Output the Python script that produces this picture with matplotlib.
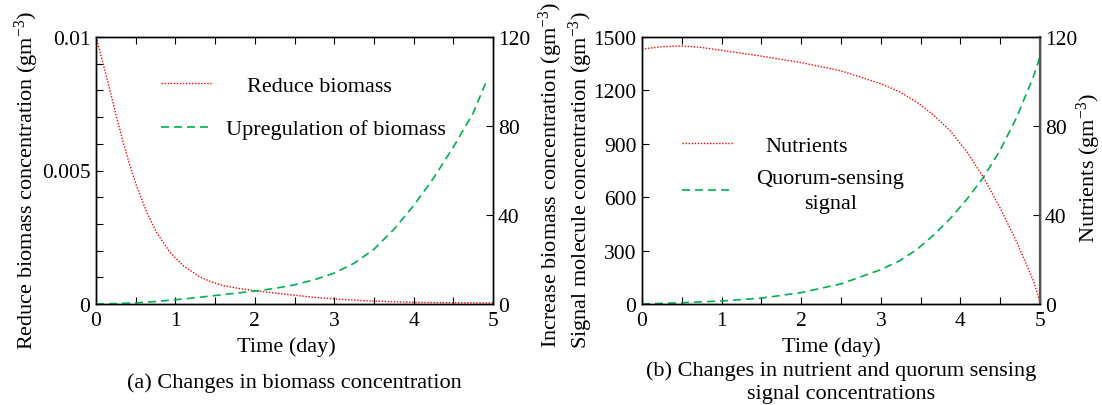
import matplotlib
matplotlib.use("Agg")
import matplotlib.pyplot as plt
from matplotlib.ticker import MultipleLocator, FixedLocator, FixedFormatter

plt.rcParams['font.family'] = ['Liberation Serif', 'DejaVu Serif']
plt.rcParams['mathtext.fontset'] = 'custom'
plt.rcParams['mathtext.rm'] = 'Liberation Serif'
plt.rcParams['mathtext.it'] = 'Liberation Serif:italic'

# ---------------- data ----------------
# (a) biomass
reduce_t = [0, 0.09, 0.18, 0.26, 0.34, 0.43, 0.51, 0.64, 0.76, 0.93, 1.1, 1.31,
            1.45, 1.6, 1.8, 2.0, 2.2, 2.4, 2.75, 3.0, 3.4, 4.0, 4.5, 5.0]
reduce_v = [0.0100, 0.00900, 0.00795, 0.00699, 0.00608, 0.00516, 0.00443, 0.00343,
            0.00269, 0.00194, 0.00143, 0.00101, 0.00083, 0.00069, 0.00058, 0.00050,
            0.00043, 0.00036, 0.00025, 0.00019, 0.00012, 0.00006, 0.00005, 0.00004]
upreg_t = [0, 0.25, 0.5, 0.75, 1.0, 1.25, 1.5, 1.75, 2.0, 2.25, 2.5, 2.75, 3.0,
           3.25, 3.5, 3.75, 4.0, 4.25, 4.5, 4.75, 4.92]
upreg_v = [0, 0.2, 0.5, 1.1, 1.9, 2.8, 3.8, 4.8, 5.8, 7.0, 8.6, 10.9, 13.9,
           18.3, 24.6, 33.5, 44.2, 56.5, 70.5, 85.8, 100.4]

# (b) nutrients and quorum-sensing signal
nutr_t = [0, 0.25, 0.5, 0.75, 1.0, 1.5, 2.0, 2.5, 3.0, 3.24, 3.45, 3.66, 3.87,
          4.08, 4.29, 4.5, 4.71, 4.92, 5.0]
nutr_v = [114.6, 115.6, 116.0, 115.3, 114.0, 111.4, 108.5, 104.8, 99.0, 95.3,
          90.8, 85.0, 77.9, 68.5, 56.9, 43.1, 27.7, 10.2, 0.8]
qs_t = [0, 0.5, 1.0, 1.5, 2.0, 2.5, 3.0, 3.24, 3.45, 3.66, 3.87, 4.08, 4.29,
        4.5, 4.71, 4.92, 5.0]
qs_v = [0, 7, 17, 33, 64, 113, 193, 244, 305, 386, 479, 588, 712, 865, 1052,
        1281, 1389]

x_ticks = [0, 1, 2, 3, 4, 5]
a_left_ticks = [0, 0.005, 0.01]
a_left_ticklabels = ['0', '0.005', '0.01']
right_ticks = [0, 40, 80, 120]
b_left_ticks = [0, 300, 600, 900, 1200, 1500]

RED = '#ff0000'
GREEN = '#00b050'
red_style = dict(color=RED, lw=1.0, linestyle=(0, (1, 1.2)))
green_style = dict(color=GREEN, lw=1.2, linestyle=(0, (4.8, 3.0)))

FS = 16
TFS = 15.5

W, H = 1102, 406
fig = plt.figure(figsize=(W / 100, H / 100), dpi=100)

def px_axes(x0, x1, y0, y1):
    return fig.add_axes([x0 / W, 1 - y1 / H, (x1 - x0) / W, (y1 - y0) / H])

def style_x(ax):
    ax.set_xlim(0, 5)
    ax.xaxis.set_major_locator(FixedLocator(x_ticks))
    ax.xaxis.set_minor_locator(MultipleLocator(0.5))
    ax.tick_params(axis='x', which='both', direction='in', top=True, bottom=True,
                   length=5, width=0.8, labelsize=TFS, pad=5)

# ---------- panel (a) ----------
ax1 = px_axes(96, 493, 38, 305)
ax2 = ax1.twinx()
style_x(ax1)
ax1.set_ylim(0, 0.01)
ax1.yaxis.set_major_locator(FixedLocator(a_left_ticks))
ax1.yaxis.set_major_formatter(FixedFormatter(a_left_ticklabels))
ax1.yaxis.set_minor_locator(MultipleLocator(0.001))
ax1.tick_params(axis='y', which='both', direction='in', length=5, width=0.8,
                labelsize=TFS, pad=4)
ax2.set_ylim(0, 120)
ax2.yaxis.set_major_locator(FixedLocator(right_ticks))
ax2.tick_params(axis='y', which='both', direction='in', length=5, width=0.8,
                labelsize=TFS, pad=3.5)

l1, = ax1.plot(reduce_t, reduce_v, **red_style, label='Reduce biomass')
l2, = ax2.plot(upreg_t, upreg_v, **green_style, label='Upregulation of biomass')

ax1.set_xlabel('Time (day)', fontsize=FS)
ax1.xaxis.set_label_coords(0.479, -0.122)
ax1.set_ylabel('Reduce biomass concentration (gm$^{-3}$)', fontsize=FS)
ax1.yaxis.set_label_coords(-0.138, 0.465)
ax2.set_ylabel('Increase biomass concentration (gm$^{-3}$)', fontsize=FS)
ax2.yaxis.set_label_coords(1.111, 0.487)

leg1 = ax1.legend(handles=[l1, l2], loc='upper left', bbox_to_anchor=(0.164, 0.856),
                  frameon=False, fontsize=FS, handlelength=2.34, handletextpad=0.59,
                  labelspacing=1.03, borderpad=0, borderaxespad=0)
leg1.get_texts()[0].set_position((21, 0))

# ---------- panel (b) ----------
ax3 = px_axes(642, 1040, 38, 305)
ax4 = ax3.twinx()
style_x(ax3)
ax3.set_ylim(0, 1500)
ax3.yaxis.set_major_locator(FixedLocator(b_left_ticks))
ax3.tick_params(axis='y', which='both', direction='in', length=5, width=0.8,
                labelsize=TFS, pad=4)
ax4.set_ylim(0, 120)
ax4.yaxis.set_major_locator(FixedLocator(right_ticks))
ax4.tick_params(axis='y', which='both', direction='in', length=5, width=0.8,
                labelsize=TFS, pad=3.5)
ax4.spines['right'].set_color('#555555')
ax4.spines['right'].set_linewidth(1.6)

l3, = ax4.plot(nutr_t, nutr_v, **red_style, label='Nutrients')
l4, = ax3.plot(qs_t, qs_v, **green_style, label='Quorum-sensing\nsignal')

ax3.set_xlabel('Time (day)', fontsize=FS)
ax3.xaxis.set_label_coords(0.477, -0.122)
ax3.set_ylabel('Signal molecule concentration (gm$^{-3}$)', fontsize=FS)
ax3.yaxis.set_label_coords(-0.119, 0.468)
ax4.set_ylabel('Nutrients (gm$^{-3}$)', fontsize=FS)
ax4.yaxis.set_label_coords(1.088, 0.513)

leg2 = ax3.legend(handles=[l3, l4], loc='upper left', bbox_to_anchor=(0.1005, 0.633),
                  frameon=False, fontsize=FS, handlelength=2.34, handletextpad=1.0,
                  labelspacing=0.6, borderpad=0, borderaxespad=0)
for t in leg2.get_texts():
    t.set_multialignment('center')
    t.set_linespacing(1.45)
leg2.get_texts()[0].set_position((9, 0))

for ax in (ax1, ax2, ax3, ax4):
    for s in ax.spines.values():
        if s is not ax4.spines['right']:
            s.set_linewidth(1.0)

fig.text(294 / W, 1 - 383 / H, '(a) Changes in biomass concentration',
         ha='center', va='center', fontsize=FS)
fig.text(841 / W, 1 - 383 / H,
         '(b) Changes in nutrient and quorum sensing\nsignal concentrations',
         ha='center', va='center', fontsize=FS, multialignment='center',
         linespacing=1.3)

fig.savefig('out.png', dpi=100)
